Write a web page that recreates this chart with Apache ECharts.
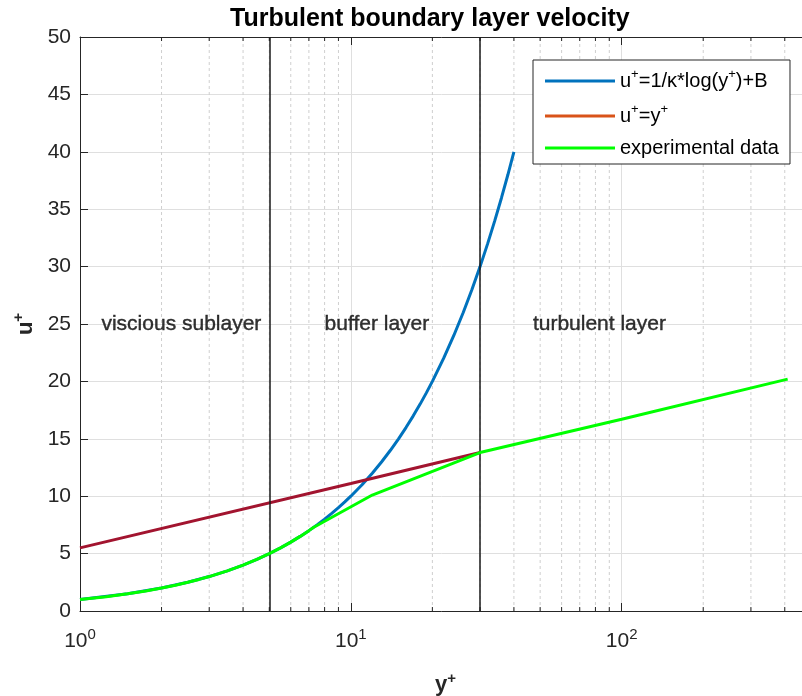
<!DOCTYPE html>
<html>
<head>
<meta charset="utf-8">
<script src="https://cdn.jsdelivr.net/npm/echarts@6/dist/echarts.min.js"></script>
<style>html,body{margin:0;padding:0;background:#fff;}#c{width:802px;height:696px;}</style>
</head>
<body>
<div id="c"></div>
<script>
// ---- data ----
const seriesNames = ['loglaw', 'linear', 'experimental data'];
const blueX = [1,1.5,2,2.5,3,3.5,4,4.5,5,5.5,6,6.5,7,7.5,8,8.5,9,9.5,10,11,12,13,14,15,16,17,18,19,20,22,24,26,28,30,32,34,36,38,40];
const blueU = [1,1.5,2,2.5,3,3.5,4,4.5,5,5.5,6,6.5,7,7.5,8,8.5,9,9.5,10,11,12,13,14,15,16,17,18,19,20,22,24,26,28,30,32,34,36,38,40];
const redX = [1, 10, 30];
const redU = [5.5, 11.1, 13.8];
const greenX = [1,1.25,1.5,1.75,2,2.25,2.5,2.75,3,3.25,3.5,3.75,4,4.25,4.5,4.75,5,5.5,6,6.5,7,7.3,12,30,100,410];
const greenU = [1,1.25,1.5,1.75,2,2.25,2.5,2.75,3,3.25,3.5,3.75,4,4.25,4.5,4.75,5,5.5,6,6.5,7,7.3,10.1,13.8,16.7,20.2];
const minorTicks = [2,3,4,5,6,7,8,9,20,30,40,50,60,70,80,90,200,300,400,500];
const layerBounds = [5, 30];
const layerNames = ['viscious sublayer', 'buffer layer', 'turbulent layer'];
const layerX = [1.2, 8, 47];
const layerU = [25, 25, 25];
const xMin = 1, xMax = 500, yMin = 0, yMax = 50, yStep = 5;

const FONT = 'Liberation Sans, Arial, Helvetica, sans-serif';
const zip = (a, b) => a.map((v, i) => [v, b[i]]);

const chart = echarts.init(document.getElementById('c'), null, {renderer: 'canvas'});
const legendLabels = {
  'loglaw': '{t|u}{s|+}{t|=1/κ*log(y}{s|+}{t|)+B}',
  'linear': '{t|u}{s|+}{t|=y}{s|+}',
  'experimental data': '{t|experimental data}'
};
const option = {
  animation: false,
  backgroundColor: '#fff',
  textStyle: {fontFamily: FONT},
  title: {
    text: 'Turbulent boundary layer velocity',
    left: 230, top: 7, padding: 0,
    textStyle: {fontSize: 25, fontWeight: 'bold', color: '#000', fontFamily: FONT}
  },
  grid: {left: 80, top: 37, bottom: 85, width: 731, containLabel: false, outerBoundsMode: 'none'},
  legend: {
    orient: 'vertical',
    left: 533, top: 60,
    padding: [8, 11, 6, 12],
    itemWidth: 70, itemHeight: 3, itemGap: 12,
    icon: 'rect',
    backgroundColor: '#fff',
    borderColor: '#262626', borderWidth: 1, borderRadius: 0,
    data: [
      {name: 'loglaw', itemStyle: {color: '#0072BD'}},
      {name: 'linear', itemStyle: {color: '#D95319'}},
      {name: 'experimental data', itemStyle: {color: '#00FF00'}}
    ],
    formatter: n => legendLabels[n],
    textStyle: {
      fontFamily: FONT, fontSize: 20, color: '#000',
      rich: {
        t: {fontSize: 20, lineHeight: 26, color: '#000', fontFamily: FONT},
        s: {fontSize: 13, lineHeight: 8, verticalAlign: 'top', color: '#000', fontFamily: FONT}
      }
    }
  },
  xAxis: [{
    type: 'log', logBase: 10, min: xMin, max: xMax,
    position: 'bottom',
    name: '{b|y}{s|+}', nameLocation: 'middle', nameGap: 60,
    nameTextStyle: {
      rich: {
        b: {fontSize: 22, fontWeight: 'bold', color: '#262626', fontFamily: FONT, lineHeight: 28},
        s: {fontSize: 15, fontWeight: 'bold', color: '#262626', fontFamily: FONT, verticalAlign: 'top', lineHeight: 10}
      }
    },
    axisLine: {show: true, onZero: false, lineStyle: {color: '#262626', width: 1}},
    axisTick: {show: true, inside: true, length: 8, lineStyle: {color: '#262626'}},
    axisLabel: {
      margin: 16, showMaxLabel: false,
      formatter: v => {
        const e = Math.round(Math.log10(v));
        if (Math.abs(Math.pow(10, e) - v) > 1e-6) return '';
        return '{b|10}{s|' + e + '}';
      },
      rich: {
        b: {fontSize: 21, color: '#262626', fontFamily: FONT, lineHeight: 28},
        s: {fontSize: 15, color: '#262626', fontFamily: FONT, verticalAlign: 'top', lineHeight: 10}
      }
    },
    splitLine: {show: true, lineStyle: {color: '#dfdfdf', width: 1}}
  }, {
    type: 'log', logBase: 10, min: xMin, max: xMax,
    position: 'top',
    axisLine: {show: true, onZero: false, lineStyle: {color: '#262626', width: 1}},
    axisTick: {show: true, inside: true, length: 8, lineStyle: {color: '#262626'}},
    axisLabel: {show: false},
    splitLine: {show: false}
  }],
  yAxis: {
    type: 'value', min: yMin, max: yMax, interval: yStep,
    name: '{b|u}{s|+}', nameLocation: 'middle', nameGap: 32, nameRotate: 90,
    nameTextStyle: {
      rich: {
        b: {fontSize: 22, fontWeight: 'bold', color: '#262626', fontFamily: FONT, lineHeight: 28},
        s: {fontSize: 15, fontWeight: 'bold', color: '#262626', fontFamily: FONT, verticalAlign: 'top', lineHeight: 10}
      }
    },
    axisLine: {show: true, lineStyle: {color: '#262626', width: 1}},
    axisTick: {show: true, inside: true, length: 8, lineStyle: {color: '#262626'}},
    axisLabel: {fontSize: 21, color: '#262626', margin: 9, fontFamily: FONT},
    splitLine: {show: true, lineStyle: {color: '#dfdfdf', width: 1}}
  },
  series: [
    {
      type: 'custom', name: 'minor', silent: true, z: 1,
      xAxisIndex: 0, yAxisIndex: 0,
      data: minorTicks.map(v => [v, yMin]),
      encode: {x: 0, y: 1},
      clip: false,
      renderItem: (params, api) => {
        const x = api.value(0);
        const p0 = api.coord([x, yMin]);
        const p1 = api.coord([x, yMax]);
        return {
          type: 'group',
          children: [
            {type: 'line', shape: {x1: p0[0], y1: p0[1], x2: p1[0], y2: p1[1]},
             style: {stroke: '#cfcfcf', lineWidth: 1, lineDash: [3, 3]}},
            {type: 'line', shape: {x1: p0[0], y1: p0[1], x2: p0[0], y2: p0[1] - 4},
             style: {stroke: '#262626', lineWidth: 1}},
            {type: 'line', shape: {x1: p1[0], y1: p1[1], x2: p1[0], y2: p1[1] + 4},
             style: {stroke: '#262626', lineWidth: 1}}
          ]
        };
      }
    },
    {
      type: 'line', name: 'loglaw', data: zip(blueX, blueU), z: 3,
      showSymbol: false, symbol: 'none',
      lineStyle: {color: '#0072BD', width: 3}, itemStyle: {color: '#0072BD'},
      markLine: {
        silent: true, symbol: 'none', label: {show: false},
        lineStyle: {color: '#1a1a1a', width: 1.5, type: 'solid'},
        data: layerBounds.map(v => ({xAxis: v}))
      }
    },
    {
      type: 'line', name: 'linear', data: zip(redX, redU), z: 4,
      showSymbol: false, symbol: 'none',
      lineStyle: {color: '#A2142F', width: 3}, itemStyle: {color: '#A2142F'}
    },
    {
      type: 'line', name: 'experimental data', data: zip(greenX, greenU), z: 5,
      showSymbol: false, symbol: 'none',
      lineStyle: {color: '#00FF00', width: 3}, itemStyle: {color: '#00FF00'}
    },
    {
      type: 'scatter', name: 'layers', silent: true, z: 6,
      symbolSize: 0,
      data: layerNames.map((n, i) => ({name: n, value: [layerX[i], layerU[i]]})),
      label: {
        show: true, position: 'right', distance: 0,
        formatter: p => p.name,
        fontSize: 21, color: '#000', fontFamily: FONT,
        textBorderColor: '#000', textBorderWidth: 0.4
      }
    }
  ]
};
chart.setOption(option);
</script>
</body>
</html>
